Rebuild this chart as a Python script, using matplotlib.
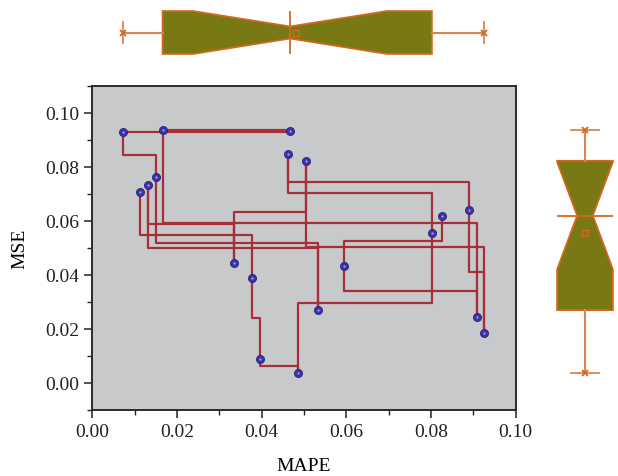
import matplotlib.pyplot as plt
import numpy as np
from matplotlib import cbook
from matplotlib.ticker import MultipleLocator

# points, listed in the order the step line runs through them
mape = [0.0827, 0.0595, 0.0908, 0.0166, 0.0467, 0.0073, 0.0150, 0.0533, 0.0132, 0.0335,
        0.0504, 0.0924, 0.0890, 0.0462, 0.0802, 0.0486, 0.0396, 0.0377, 0.0113]
mse = [0.0620, 0.0435, 0.0244, 0.0938, 0.0934, 0.0928, 0.0764, 0.0270, 0.0732, 0.0443,
       0.0823, 0.0184, 0.0641, 0.0848, 0.0557, 0.0037, 0.0089, 0.0390, 0.0708]

xticks = [0.00, 0.02, 0.04, 0.06, 0.08, 0.10]
yticks = [0.00, 0.02, 0.04, 0.06, 0.08, 0.10]

plt.rcParams['font.family'] = ['Liberation Serif', 'DejaVu Serif']

line_col = '#9e0a16'
dot_col = '#3b34a6'
box_fill = '#787814'
box_edge = '#d2691e'


def step_path(x, y):
    # vertical, horizontal, vertical: the bend sits half way between the two heights
    xs, ys = [x[0]], [y[0]]
    for i in range(1, len(x)):
        ym = (y[i - 1] + y[i]) / 2
        xs += [x[i - 1], x[i], x[i]]
        ys += [ym, ym, y[i]]
    return xs, ys


def box_stats(values):
    v = np.sort(np.asarray(values))
    st = cbook.boxplot_stats(v, whis=(0, 100))[0]
    # quartiles at (n+1)p like Origin does
    st['q1'] = np.percentile(v, 25, method='weibull')
    st['q3'] = np.percentile(v, 75, method='weibull')
    st['med'] = np.median(v)
    half = 1.57 * (st['q3'] - st['q1']) / np.sqrt(len(v))
    st['cilo'] = st['med'] - half
    st['cihi'] = st['med'] + half
    st['whislo'] = v.min()
    st['whishi'] = v.max()
    st['fliers'] = np.array([v.min(), v.max()])
    return st


def draw_box(ax, values, orientation, width):
    art = ax.bxp([box_stats(values)], positions=[0], widths=width,
                 orientation=orientation, shownotches=True, showmeans=True,
                 patch_artist=True,
                 boxprops=dict(facecolor=box_fill, edgecolor=box_edge, linewidth=1.3),
                 whiskerprops=dict(color='#dc8450', linewidth=1.5),
                 capprops=dict(color='#dc8450', linewidth=1.3),
                 medianprops=dict(color=box_edge, linewidth=1.3),
                 meanprops=dict(marker='s', markerfacecolor='none', markeredgecolor=box_edge,
                                markersize=4.5, markeredgewidth=1.0),
                 flierprops=dict(marker='x', markeredgecolor=box_edge, markersize=5,
                                 markeredgewidth=1.3))
    col = 0 if orientation == 'vertical' else 1
    # deeper notch than matplotlib's default
    box = art['boxes'][0]
    path = box.get_path()
    v = path.vertices.copy()
    notch = np.isclose(np.abs(v[:, col]), width * 0.25)
    v[notch, col] = np.sign(v[notch, col]) * width * 0.14
    path.vertices = v
    # median across the full box
    med = art['medians'][0]
    if col == 0:
        med.set_xdata([-width / 2, width / 2])
    else:
        med.set_ydata([-width / 2, width / 2])


fig = plt.figure(figsize=(6.18, 4.77), dpi=100)

L, R, B, T = 92.3 / 618, 515.7 / 618, 66 / 477, 390 / 477
ax = fig.add_axes([L, B, R - L, T - B])
ax.set_facecolor('#c8c9cb')

sx, sy = step_path(mape, mse)
ax.plot(sx, sy, color=line_col, linewidth=1.6, alpha=0.8, zorder=2)
ax.plot(mape, mse, linestyle='none', marker='o', markersize=5.8,
        markerfacecolor=dot_col, markeredgecolor='#28207e', markeredgewidth=0.6, zorder=3)
ax.plot(mape, mse, linestyle='none', marker='o', markersize=1.6,
        markerfacecolor='#a7a4e6', markeredgewidth=0, zorder=4)

ax.set_xlim(0, 0.10)
ax.set_ylim(-0.01, 0.11)
ax.set_xticks(xticks)
ax.set_yticks(yticks)
ax.set_xticklabels([f'{t:.2f}' for t in xticks])
ax.set_yticklabels([f'{t:.2f}' for t in yticks])
ax.xaxis.set_minor_locator(MultipleLocator(0.01))
ax.yaxis.set_minor_locator(MultipleLocator(0.01))
ax.tick_params(which='major', direction='out', length=6, width=1.1, labelsize=14, colors='#222222')
ax.tick_params(which='minor', direction='out', length=3.5, width=1.0, colors='#222222')
for s in ax.spines.values():
    s.set_linewidth(1.4)
    s.set_color('#2a2a2a')
ax.set_xlabel('MAPE', fontsize=14, labelpad=12)
ax.set_ylabel('MSE', fontsize=14, labelpad=12)

# marginal box on top, same x scale
axt = fig.add_axes([L, 1 - 67 / 477, R - L, 67 / 477])
draw_box(axt, mape, 'horizontal', 0.64)
axt.set_xlim(0, 0.10)
axt.set_ylim(-0.5, 0.5)
axt.axis('off')

# marginal box on the right, same y scale
axr = fig.add_axes([555 / 618, B, 60 / 618, T - B])
draw_box(axr, mse, 'vertical', 0.93)
axr.set_xlim(-0.5, 0.5)
axr.set_ylim(-0.01, 0.11)
axr.axis('off')

fig.savefig('out.png', dpi=100)
